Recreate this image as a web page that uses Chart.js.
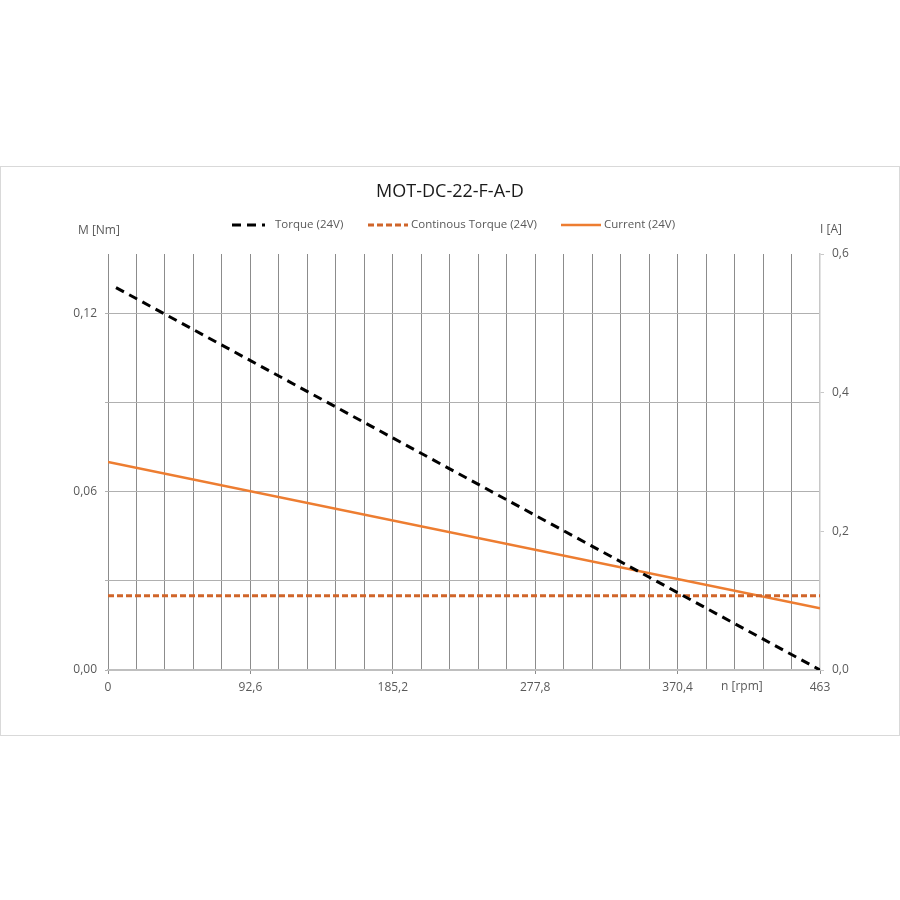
<!DOCTYPE html>
<html>
<head>
<meta charset="utf-8">
<script src="https://cdn.jsdelivr.net/npm/chart.js@4.4.1/dist/chart.umd.min.js"></script>
<style>
  body { margin: 0; background: #fff; }
  #frame {
    position: absolute; left: 0; top: 166px;
    width: 898px; height: 568px;
    border: 1px solid #d9d9d9; background: #fff;
  }
</style>
</head>
<body>
<div id="frame"><canvas id="motorChart" width="898" height="568"></canvas></div>
<script>
// ---------------------- DATA ----------------------
const chartTitle = "MOT-DC-22-F-A-D";

const torqueN = [5.2, 463];
const torqueM = [0.1287, 0];

const contTorqueN = [0, 463];
const contTorqueM = [0.025, 0.025];

const currentN = [0, 463];
const currentI = [0.3, 0.089];

// tick labels
const nTicks = [0, 92.6, 185.2, 277.8, 370.4, 463];
const mTicks = [0, 0.06, 0.12];
const iTicks = [0, 0.2, 0.4, 0.6];

const FONT = "'Open Sans', sans-serif";
const GREY = "#595959";

const toPoints = (xs, ys) => xs.map((x, i) => ({ x, y: ys[i] }));
const comma = (v, d) => v.toFixed(d).replace(".", ",");
const near = (a, b) => Math.abs(a - b) < 1e-6;

// ---------------------- TITLE, LEGEND, AXIS NAMES ----------------------
const decorPlugin = {
  id: "decor",
  afterDraw(chart) {
    const ctx = chart.ctx;
    ctx.save();
    ctx.textBaseline = "middle";

    ctx.fillStyle = "#1a1a1a";
    ctx.font = `18px ${FONT}`;
    ctx.textAlign = "center";
    ctx.fillText(chartTitle, 449, 25);

    // legend
    const legendPos = [
      { x0: 231, x1: 264, tx: 274 },
      { x0: 367, x1: 407, tx: 410 },
      { x0: 560, x1: 600, tx: 603 },
    ];
    ctx.font = `11.5px ${FONT}`;
    ctx.textAlign = "left";
    chart.data.datasets.forEach((ds, i) => {
      const p = legendPos[i];
      ctx.save();
      ctx.strokeStyle = ds.borderColor;
      ctx.lineWidth = ds.borderWidth;
      ctx.setLineDash(ds.borderDash || []);
      ctx.beginPath();
      ctx.moveTo(p.x0, 58);
      ctx.lineTo(p.x1, 58);
      ctx.stroke();
      ctx.restore();
      ctx.fillStyle = GREY;
      ctx.fillText(ds.label, p.tx, 58);
    });

    // axis names
    ctx.font = `12px ${FONT}`;
    ctx.fillStyle = GREY;
    ctx.fillText("M [Nm]", 77, 64);
    ctx.fillText("I [A]", 819, 63);
    ctx.fillText("n [rpm]", 720, 520);
    ctx.restore();
  },
};

// ---------------------- CHART ----------------------
new Chart(document.getElementById("motorChart"), {
  type: "scatter",
  data: {
    datasets: [
      {
        label: "Torque (24V)",
        data: toPoints(torqueN, torqueM),
        yAxisID: "y",
        borderColor: "#000000",
        borderWidth: 3,
        borderDash: [9, 6],
      },
      {
        label: "Continous Torque (24V)",
        data: toPoints(contTorqueN, contTorqueM),
        yAxisID: "y",
        borderColor: "#d0652a",
        borderWidth: 3,
        borderDash: [6, 3],
      },
      {
        label: "Current (24V)",
        data: toPoints(currentN, currentI),
        yAxisID: "y1",
        borderColor: "#ed7d31",
        borderWidth: 2.5,
      },
    ].map((d) => ({ ...d, showLine: true, pointRadius: 0, fill: false })),
  },
  options: {
    responsive: false,
    animation: false,
    layout: { padding: { top: 87, left: 0, right: 0, bottom: 0 } },
    plugins: {
      legend: { display: false },
      title: { display: false },
      tooltip: { enabled: false },
    },
    scales: {
      x: {
        type: "linear",
        min: 0,
        max: 463,
        afterFit: (s) => { s.height = 65; },
        afterBuildTicks: (s) => {
          const step = (nTicks[1] - nTicks[0]) / 5;
          s.ticks = Array.from({ length: 26 }, (_, k) => ({ value: k * step }));
        },
        border: { display: true, color: "#bfbfbf", width: 2 },
        grid: {
          color: (c) => (c.index === 25 ? "rgba(0,0,0,0)" : "#8c8c8c"),
          tickColor: (c) => (c.index % 5 === 0 ? "#8c8c8c" : "rgba(0,0,0,0)"),
          tickLength: 4,
          lineWidth: 1,
        },
        ticks: {
          autoSkip: false,
          maxRotation: 0,
          padding: 6,
          color: GREY,
          font: { family: FONT, size: 12 },
          callback: (v, i) => {
            const t = nTicks.find((n) => Math.abs(n - v) < 0.01);
            return t === undefined ? "" : comma(t, t % 1 ? 1 : 0);
          },
        },
      },
      y: {
        position: "left",
        min: 0,
        max: 0.14,
        afterFit: (s) => { s.width = 107; },
        afterBuildTicks: (s) => {
          const step = (mTicks[1] - mTicks[0]) / 2;
          s.ticks = Array.from({ length: 5 }, (_, k) => ({ value: k * step }));
        },
        border: { display: false },
        grid: {
          color: "#b0b0b0",
          tickColor: "#b0b0b0",
          tickLength: 3,
          lineWidth: 1,
        },
        ticks: {
          padding: 8,
          color: GREY,
          font: { family: FONT, size: 12 },
          callback: (v) => (mTicks.some((m) => near(m, v)) ? comma(v, 2) : ""),
        },
      },
      y1: {
        position: "right",
        min: 0,
        max: 0.6,
        afterFit: (s) => { s.width = 79; },
        afterBuildTicks: (s) => {
          s.ticks = iTicks.map((v) => ({ value: v }));
        },
        border: { display: true, color: "#c8c8c8", width: 1.5 },
        grid: {
          drawOnChartArea: false,
          tickColor: "#c8c8c8",
          tickLength: 4,
        },
        ticks: {
          padding: 8,
          color: GREY,
          font: { family: FONT, size: 12 },
          callback: (v) => comma(v, 1),
        },
      },
    },
  },
  plugins: [decorPlugin],
});
</script>
</body>
</html>
